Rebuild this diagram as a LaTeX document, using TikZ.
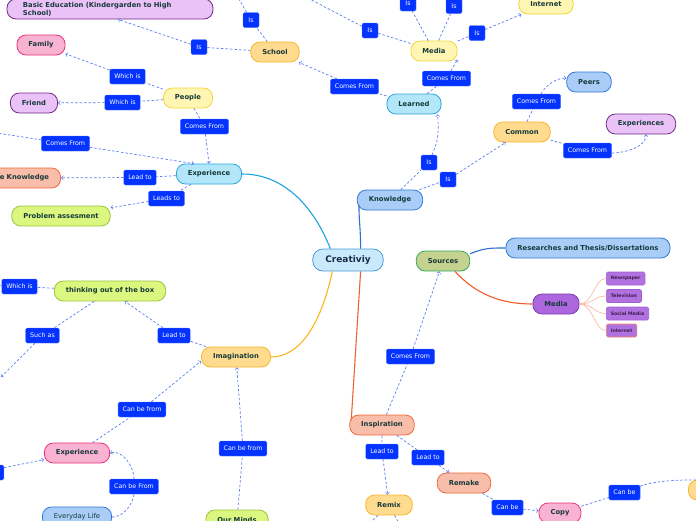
\documentclass[tikz,border=0pt]{standalone}
\usepackage{fontspec}
\setmainfont{DejaVu Sans}
\usetikzlibrary{arrows,positioning,calc}

\definecolor{textdark}{HTML}{173A3A}
\definecolor{rootdark}{HTML}{1A2B4C}
\definecolor{leaftext}{HTML}{3B1F4F}
\definecolor{labelblue}{HTML}{0433FF}
\definecolor{dashblue}{HTML}{5B7DF2}
\definecolor{lilacfill}{HTML}{EBC2F8}
\definecolor{lilacline}{HTML}{6E2D85}
\definecolor{rosefill}{HTML}{F9B3D2}
\definecolor{roseline}{HTML}{E8327C}
\definecolor{sandfill}{HTML}{FFF6B3}
\definecolor{sandline}{HTML}{F2D43A}
\definecolor{apricotfill}{HTML}{FFDB8F}
\definecolor{apricotline}{HTML}{F7B52C}
\definecolor{skyfill}{HTML}{B4E6FA}
\definecolor{skyline}{HTML}{2AA6DE}
\definecolor{azurefill}{HTML}{A9CDF7}
\definecolor{azureline}{HTML}{3478D6}
\definecolor{salmonfill}{HTML}{F8BEA9}
\definecolor{salmonline}{HTML}{F0683A}
\definecolor{limefill}{HTML}{DBF77F}
\definecolor{limeline}{HTML}{9DC23A}
\definecolor{mossfill}{HTML}{C5D28F}
\definecolor{mossline}{HTML}{2EAA57}
\definecolor{violetfill}{HTML}{AC66DE}
\definecolor{violetline}{HTML}{7C3EAE}
\definecolor{leaffill}{HTML}{B271E0}
\definecolor{leafline}{HTML}{A060D0}
\definecolor{rootfill}{HTML}{C8EAFB}
\definecolor{rootline}{HTML}{4E9AD8}
\definecolor{skybranch}{HTML}{1AA3E0}
\definecolor{azurebranch}{HTML}{2F6FCF}
\definecolor{apricotbranch}{HTML}{F9B520}
\definecolor{salmonbranch}{HTML}{F06030}
\definecolor{orangebranch}{HTML}{F55A22}
\definecolor{twigcolor}{HTML}{F8B39B}

\tikzset{
    topic/.style={
        draw,
        rectangle,
        rounded corners=9pt,
        line width=0.8pt,
        minimum height=20pt,
        inner xsep=11.5pt,
        inner ysep=2pt,
        text=textdark,
        font=\fontsize{6.8}{8}\selectfont\bfseries
    },
    root/.style={
        topic,
        fill=rootfill,
        draw=rootline,
        minimum height=22pt,
        inner xsep=12.5pt,
        rounded corners=10pt,
        text=rootdark,
        font=\fontsize{9}{10}\selectfont\bfseries
    },
    link/.style={
        fill=labelblue,
        draw=labelblue!70!white,
        rectangle,
        rounded corners=1.5pt,
        minimum height=15pt,
        minimum width=16pt,
        inner xsep=4.5pt,
        text=white,
        font=\fontsize{6.3}{7}\selectfont
    },
    leaf/.style={
        draw=leafline,
        fill=leaffill,
        rectangle,
        rounded corners=1.5pt,
        minimum height=13pt,
        inner xsep=4.5pt,
        inner ysep=1pt,
        line width=0.6pt,
        anchor=west,
        text=leaftext,
        font=\fontsize{4.7}{5.5}\selectfont\bfseries
    },
    relation/.style={
        draw=dashblue,
        dash pattern=on 2.5pt off 2pt,
        line width=0.7pt,
        ->
    },
    branch/.style={line width=1.1pt},
    twig/.style={draw=twigcolor, line width=0.6pt},
    lilac_node/.style={fill=lilacfill, draw=lilacline},
    rose_node/.style={fill=rosefill, draw=roseline},
    sand_node/.style={fill=sandfill, draw=sandline},
    apricot_node/.style={fill=apricotfill, draw=apricotline},
    sky_node/.style={fill=skyfill, draw=skyline},
    azure_node/.style={fill=azurefill, draw=azureline},
    salmon_node/.style={fill=salmonfill, draw=salmonline},
    lime_node/.style={fill=limefill, draw=limeline},
    moss_node/.style={fill=mossfill, draw=mossline},
    violet_node/.style={fill=violetfill, draw=violetline},
}

\begin{document}
\begin{tikzpicture}[x=1pt, y=-1pt, align=center]
    \useasboundingbox (0,0) rectangle (696,520);

    % centre
    \node[root] (creativiy) at (348,260) {Creativiy};

    % knowledge
    \node[topic, azure_node] (knowledge) at (390,200) {Knowledge};
    \node[topic, sky_node] (learned) at (414,104) {Learned};
    \node[topic, apricot_node] (common) at (522,132) {Common};
    \node[topic, azure_node] (peers) at (589,82) {Peers};
    \node[topic, lilac_node] (experiences) at (641,124) {Experiences};
    \node[topic, apricot_node] (school) at (275,52) {School};
    \node[topic, sand_node] (media) at (434,51) {Media};
    \node[topic, sand_node] (internet) at (546,4) {Internet};
    \node[topic, lilac_node, text width=174pt, inner xsep=16pt, align=left] (basic) at (110,9) {Basic Education (Kindergarden to High\\School)};
    \node[topic, sand_node] (people) at (188,98) {People};
    \node[topic, rose_node] (family) at (41,45) {Family};
    \node[topic, lilac_node] (friend) at (34,103) {Friend};
    \node[topic, sky_node] (experience) at (209,174) {Experience};
    \node[topic, salmon_node, anchor=east] (wide) at (61,178) {Wide Knowledge};
    \node[topic, lime_node] (problem) at (61,216) {Problem assesment};

    % sources
    \node[topic, moss_node] (sources) at (443,261) {Sources};
    \node[topic, azure_node] (research) at (588,248) {Researches and Thesis/Dissertations};
    \node[topic, violet_node] (media2) at (556,304) {Media};
    \node[leaf] (newspaper) at (606,278.5) {Newspaper};
    \node[leaf] (television) at (606,296) {Television};
    \node[leaf] (social) at (606,313.5) {Social Media};
    \node[leaf, draw=salmonline!80!white] (internet2) at (606,330.5) {Internet};

    % imagination
    \node[topic, lime_node] (thinking) at (110,291) {thinking out of the box};
    \node[topic, apricot_node] (imagination) at (236,357) {Imagination};
    \node[topic, rose_node] (expink) at (77,453) {Experience};
    \node[topic, azure_node, font=\fontsize{6.8}{8}\selectfont] (everyday) at (77,517) {Everyday Life};
    \node[topic, lime_node] (minds) at (237,520) {Our Minds};

    % inspiration
    \node[topic, salmon_node] (inspiration) at (382,425) {Inspiration};
    \node[topic, apricot_node] (remix) at (389,505) {Remix};
    \node[topic, salmon_node] (remake) at (464,483) {Remake};
    \node[topic, rose_node] (copy) at (560,513) {Copy};
    \node[topic, apricot_node, anchor=west, minimum width=60pt] (copy_next) at (688,490) {};

    % link labels
    \node[link] (is_basic) at (199,47) {Is};
    \node[link] (is_school) at (251,20) {Is};
    \node[link] (which_family) at (127.5,76.5) {Which is};
    \node[link] (which_friend) at (122.5,102.5) {Which is};
    \node[link] (from_people) at (204.5,126.5) {Comes From};
    \node[link] (from_school) at (354.5,86.5) {Comes From};
    \node[link] (is_m1) at (370,30.5) {Is};
    \node[link] (is_m2) at (408,3.5) {Is};
    \node[link] (is_m3) at (454,6) {Is};
    \node[link] (is_internet) at (477,33) {Is};
    \node[link] (from_media) at (446.5,78.5) {Comes From};
    \node[link] (from_peers) at (536.5,101.5) {Comes From};
    \node[link] (from_exps) at (587.5,150.5) {Comes From};
    \node[link] (is_learned) at (429,162.5) {Is};
    \node[link] (is_common) at (448,179.5) {Is};
    \node[link] (from_left) at (65.5,143.5) {Comes From};
    \node[link] (lead_wide) at (140,177.5) {Lead to};
    \node[link] (leads_problem) at (166.5,198.5) {Leads to};
    \node[link] (which_think) at (19.5,286.5) {Which is};
    \node[link] (such_as) at (42.5,335.5) {Such as};
    \node[link] (lead_think) at (174,335.5) {Lead to};
    \node[link] (from_sources) at (410.5,356.5) {Comes From};
    \node[link] (from_expink) at (142,409.5) {Can be from};
    \node[link] (from_minds) at (243,448.5) {Can be from};
    \node[link] (from_everyday) at (134,486.5) {Can be From};
    \node[link] (lead_remix) at (382,451.5) {Lead to};
    \node[link] (lead_remake) at (428,457.5) {Lead to};
    \node[link] (canbe_copy) at (507.5,507.5) {Can be};
    \node[link] (canbe_next) at (624.5,492.5) {Can be};
    \node[link, anchor=east] (from_hidden) at (4,472.5) {Can be from};

    % loose ends
    \coordinate (school_up) at (236,-6);
    \coordinate (media_up1) at (300,-6);
    \coordinate (media_up2) at (401,-12);
    \coordinate (media_up3) at (458,-12);
    \coordinate (left_in) at (-10,132);
    \coordinate (think_out) at (-30,283);
    \coordinate (such_out) at (1,377);
    \coordinate (remix_left) at (352,540);
    \coordinate (remix_right) at (408,540);

    % main branches
    \draw[branch, draw=skybranch] ([xshift=18pt]creativiy.north west) .. controls +(-18,-45) and +(40,0) .. (experience.east);
    \draw[branch, draw=azurebranch] ([xshift=-23pt]creativiy.north east) .. controls +(0,-20) and +(0,15) .. ([xshift=2pt,yshift=-5pt]knowledge.west);
    \draw[branch, draw=apricotbranch] ([xshift=20pt]creativiy.south west) .. controls +(-12,55) and +(28,0) .. (imagination.east);
    \draw[branch, draw=salmonbranch] ([xshift=-23pt]creativiy.south east) -- ([xshift=2pt,yshift=-5pt]inspiration.north west);
    \draw[branch, draw=azurebranch] (sources.15) .. controls +(15,-6) and +(-15,0) .. (research.west);
    \draw[branch, draw=orangebranch] ([xshift=12pt]sources.south) .. controls +(22,24) and +(-30,0) .. (media2.west);
    \draw[twig] (media2.east) .. controls +(14,0) and +(-12,0) .. (newspaper.west);
    \draw[twig] (media2.east) .. controls +(14,0) and +(-12,0) .. (television.west);
    \draw[twig] (media2.east) .. controls +(14,0) and +(-12,0) .. (social.west);
    \draw[twig] (media2.east) .. controls +(14,0) and +(-12,0) .. (internet2.west);

    % relations
    \draw[relation] (people) -- (from_people) -- (experience.north);
    \draw[relation] (people) -- (which_family) -- (family);
    \draw[relation] (people) -- (which_friend) -- (friend);
    \draw[relation] (school) -- (is_basic) -- ([xshift=8pt]basic.south);
    \draw[relation] (school) -- (is_school) -- (school_up);
    \draw[relation] (learned) -- (from_school) -- (school);
    \draw[relation] (learned) -- (from_media) -- (media.-20);
    \draw[relation] (media) -- (is_m1) -- (media_up1);
    \draw[relation] (media) -- (is_m2) -- (media_up2);
    \draw[relation] (media) -- (is_m3) -- (media_up3);
    \draw[relation] (media) -- (is_internet) -- (internet);
    \draw[relation] (knowledge) -- (is_learned) .. controls +(8,-20) and +(2,22) .. ([xshift=-4pt]learned.south east);
    \draw[relation] (knowledge) -- (is_common) -- (common);
    \draw[relation] (common) -- (from_peers) .. controls +(8,-14) and +(-12,0) .. ([yshift=4pt]peers.west);
    \draw[relation] (common) -- (from_exps) .. controls +(30,3) and +(0,15) .. ([xshift=5pt]experiences.south);
    \draw[relation] (left_in) -- (from_left) -- ([xshift=18pt]experience.north west);
    \draw[relation] (experience) -- (lead_wide) -- (wide);
    \draw[relation] (experience) -- (leads_problem) -- (problem);
    \draw[relation] (thinking) -- (which_think) -- (think_out);
    \draw[relation] (thinking) -- (such_as) -- (such_out);
    \draw[relation] (imagination) -- (lead_think) -- (thinking);
    \draw[relation] (expink) -- (from_expink) -- ([yshift=-4pt]imagination.west);
    \draw[relation] (minds) -- (from_minds) -- (imagination);
    \draw[relation] (everyday.east) .. controls +(15,0) and +(0,12) .. (from_everyday) .. controls +(0,-20) and +(12,-4) .. (expink.east);
    \draw[relation] (from_hidden) -- (expink);
    \draw[relation] (inspiration) -- (from_sources) -- (sources);
    \draw[relation] (inspiration) -- (lead_remix) -- (remix);
    \draw[relation] (inspiration) -- (lead_remake) -- (remake);
    \draw[relation] (remake) -- (canbe_copy) -- (copy);
    \draw[relation] (copy) -- (canbe_next) .. controls +(35,-14) and +(-15,-10) .. (copy_next);
    \draw[relation] (remix) -- (remix_left);
    \draw[relation] (remix) -- (remix_right);
\end{tikzpicture}
\end{document}
